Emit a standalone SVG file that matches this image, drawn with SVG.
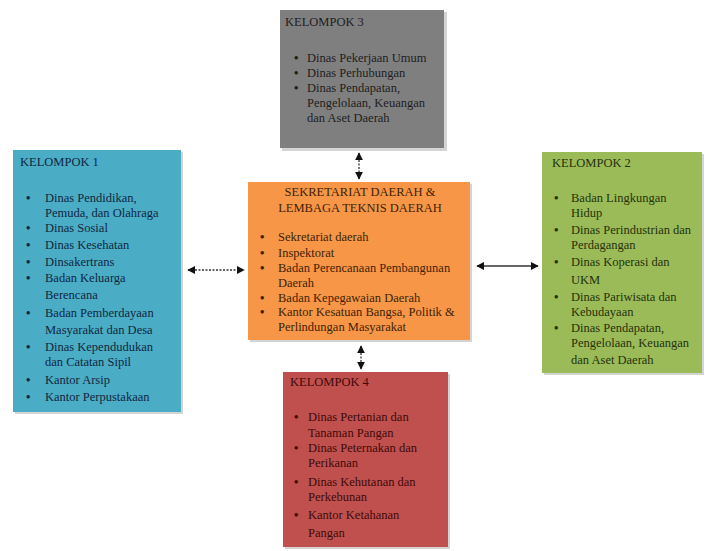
<svg xmlns="http://www.w3.org/2000/svg" width="705" height="551" viewBox="0 0 705 551">
<defs>
<style>
text{font-family:"Liberation Serif","Times New Roman",serif;font-size:12.5px}
.b{font-weight:bold}
.sh{fill:#d4d4d4}
.gray{fill:#7f7f7f}
.blue{fill:#4bacc6}
.orange{fill:#f79646}
.green{fill:#9bbb59}
.red{fill:#c0504d}
.tg{fill:#1e1e1e}
.tb{fill:#10283f}
.to{fill:#3f1f06}
.tgr{fill:#25320b}
.tr{fill:#3f0a0a}
.con{stroke:#333;stroke-width:1.3;fill:none}
.dot{stroke-dasharray:2 1.5}
</style>
<marker id="ah" viewBox="0 0 10 10" refX="9" refY="5" markerWidth="6" markerHeight="6" orient="auto-start-reverse">
<path d="M0,0 L10,5 L0,10 z" fill="#111"/>
</marker>
</defs>
<rect width="705" height="551" fill="#fff"/>

<g id="connectors">
<line class="con dot" x1="188" y1="270" x2="244" y2="270" marker-start="url(#ah)" marker-end="url(#ah)"/>
<line class="con" x1="477" y1="266" x2="538" y2="266" marker-start="url(#ah)" marker-end="url(#ah)"/>
<line class="con dot" x1="359" y1="153" x2="359" y2="179" marker-start="url(#ah)" marker-end="url(#ah)"/>
<line class="con dot" x1="361" y1="346" x2="361" y2="369" marker-start="url(#ah)" marker-end="url(#ah)"/>
</g>

<g id="kelompok3">
<rect class="sh" x="282" y="12" width="165" height="139"/>
<rect class="gray" x="280" y="10" width="164" height="138"/>
<text class="tg" x="285" y="26">KELOMPOK 3</text>
<g class="tg">
<text class="b" x="294" y="62">•</text><text x="307" y="62">Dinas Pekerjaan Umum</text>
<text class="b" x="294" y="77">•</text><text x="307" y="77">Dinas Perhubungan</text>
<text class="b" x="294" y="92">•</text><text x="307" y="92">Dinas Pendapatan,</text>
<text x="307" y="107">Pengelolaan, Keuangan</text>
<text x="307" y="122">dan Aset Daerah</text>
</g>
</g>

<g id="kelompok1">
<rect class="sh" x="15" y="152" width="168" height="262"/>
<rect class="blue" x="13" y="150" width="168" height="262"/>
<g class="tb">
<text x="20" y="166">KELOMPOK 1</text>
<text class="b" x="26" y="202">•</text><text x="45" y="202">Dinas Pendidikan,</text>
<text x="45" y="217">Pemuda, dan Olahraga</text>
<text class="b" x="26" y="232">•</text><text x="45" y="232">Dinas Sosial</text>
<text class="b" x="26" y="249">•</text><text x="45" y="249">Dinas Kesehatan</text>
<text class="b" x="26" y="266">•</text><text x="45" y="266">Dinsakertrans</text>
<text class="b" x="26" y="282">•</text><text x="45" y="282">Badan Keluarga</text>
<text x="45" y="299">Berencana</text>
<text class="b" x="26" y="317">•</text><text x="45" y="317">Badan Pemberdayaan</text>
<text x="45" y="334">Masyarakat dan Desa</text>
<text class="b" x="26" y="351">•</text><text x="45" y="351">Dinas Kependudukan</text>
<text x="45" y="366">dan Catatan Sipil</text>
<text class="b" x="26" y="384">•</text><text x="45" y="384">Kantor Arsip</text>
<text class="b" x="26" y="401">•</text><text x="45" y="401">Kantor Perpustakaan</text>
</g>
</g>

<g id="sekretariat">
<rect class="sh" x="250" y="184" width="222" height="158"/>
<rect class="orange" x="248" y="182" width="222" height="158"/>
<g class="to">
<text x="360" y="196" text-anchor="middle">SEKRETARIAT DAERAH &amp;</text>
<text x="360" y="212" text-anchor="middle">LEMBAGA TEKNIS DAERAH</text>
<text class="b" x="260" y="241">•</text><text x="278" y="241">Sekretariat daerah</text>
<text class="b" x="260" y="257">•</text><text x="278" y="257">Inspektorat</text>
<text class="b" x="260" y="272">•</text><text x="278" y="272">Badan Perencanaan Pembangunan</text>
<text x="278" y="287">Daerah</text>
<text class="b" x="260" y="302">•</text><text x="278" y="302">Badan Kepegawaian Daerah</text>
<text class="b" x="260" y="316">•</text><text x="278" y="316">Kantor Kesatuan Bangsa, Politik &amp;</text>
<text x="278" y="331">Perlindungan Masyarakat</text>
</g>
</g>

<g id="kelompok2">
<rect class="sh" x="544" y="154" width="160" height="221"/>
<rect class="green" x="542" y="152" width="160" height="221"/>
<g class="tgr">
<text x="552" y="167">KELOMPOK 2</text>
<text class="b" x="554" y="202">•</text><text x="571" y="202">Badan Lingkungan</text>
<text x="571" y="217">Hidup</text>
<text class="b" x="554" y="234">•</text><text x="571" y="234">Dinas Perindustrian dan</text>
<text x="571" y="249">Perdagangan</text>
<text class="b" x="554" y="266">•</text><text x="571" y="266">Dinas Koperasi dan</text>
<text x="571" y="284">UKM</text>
<text class="b" x="554" y="301">•</text><text x="571" y="301">Dinas Pariwisata dan</text>
<text x="571" y="316">Kebudayaan</text>
<text class="b" x="554" y="332">•</text><text x="571" y="332">Dinas Pendapatan,</text>
<text x="571" y="347">Pengelolaan, Keuangan</text>
<text x="571" y="364">dan Aset Daerah</text>
</g>
</g>

<g id="kelompok4">
<rect class="sh" x="285" y="374" width="165" height="175"/>
<rect class="red" x="283" y="372" width="165" height="175"/>
<g class="tr">
<text x="290" y="386">KELOMPOK 4</text>
<text class="b" x="294" y="421">•</text><text x="308" y="421">Dinas Pertanian dan</text>
<text x="308" y="437">Tanaman Pangan</text>
<text class="b" x="294" y="452">•</text><text x="308" y="452">Dinas Peternakan dan</text>
<text x="308" y="467">Perikanan</text>
<text class="b" x="294" y="486">•</text><text x="308" y="486">Dinas Kehutanan dan</text>
<text x="308" y="501">Perkebunan</text>
<text class="b" x="294" y="519">•</text><text x="308" y="519">Kantor Ketahanan</text>
<text x="308" y="537">Pangan</text>
</g>
</g>
</svg>
